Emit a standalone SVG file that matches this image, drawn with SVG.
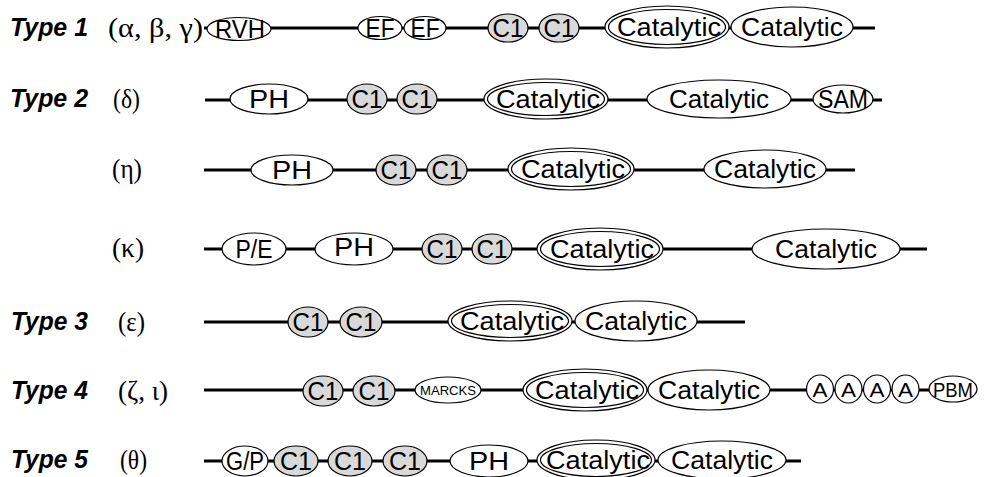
<svg xmlns="http://www.w3.org/2000/svg" width="984" height="477" viewBox="0 0 984 477">
  <style>
    .bg { fill: #ffffff; }
    .bb { stroke: #000; stroke-width: 3; fill: none; }
    .dom { fill: #ffffff; stroke: #000; stroke-width: 1.2; }
    .c1 { fill: #d9d9d9; stroke: #000; stroke-width: 1.2; }
    .ring { fill: none; stroke: #000; stroke-width: 1.2; }
    .t { font-family: "Liberation Sans", Arial, sans-serif; font-size: 25px; fill: #000; text-anchor: middle; }
    .tm { font-family: "Liberation Sans", Arial, sans-serif; font-size: 21px; fill: #000; text-anchor: middle; }
    .ts { font-family: "Liberation Sans", Arial, sans-serif; font-size: 13px; fill: #000; text-anchor: middle; }
    .type { font-family: "Liberation Sans", Arial, sans-serif; font-size: 25px; font-weight: bold; font-style: italic; fill: #000; }
    .iso { font-family: "Liberation Serif", "Times New Roman", serif; font-size: 27px; fill: #000; }
  </style>
  <rect class="bg" x="0" y="0" width="984" height="477"/>

  <!-- row labels -->
  <g id="labels">
    <text class="type" x="10" y="36" textLength="78" lengthAdjust="spacingAndGlyphs">Type 1</text>
    <text class="iso" x="108" y="37" textLength="95" lengthAdjust="spacingAndGlyphs">(α, β, γ)</text>
    <text class="type" x="10" y="107" textLength="78" lengthAdjust="spacingAndGlyphs">Type 2</text>
    <text class="iso" x="113" y="108" textLength="27" lengthAdjust="spacingAndGlyphs">(δ)</text>
    <text class="iso" x="112" y="178" textLength="30" lengthAdjust="spacingAndGlyphs">(η)</text>
    <text class="iso" x="112" y="257" textLength="32" lengthAdjust="spacingAndGlyphs">(κ)</text>
    <text class="type" x="11" y="330" textLength="77" lengthAdjust="spacingAndGlyphs">Type 3</text>
    <text class="iso" x="118" y="331" textLength="27" lengthAdjust="spacingAndGlyphs">(ε)</text>
    <text class="type" x="11" y="399" textLength="77" lengthAdjust="spacingAndGlyphs">Type 4</text>
    <text class="iso" x="118" y="400" textLength="50" lengthAdjust="spacingAndGlyphs">(ζ, ι)</text>
    <text class="type" x="11" y="468" textLength="77" lengthAdjust="spacingAndGlyphs">Type 5</text>
    <text class="iso" x="120" y="469" textLength="27" lengthAdjust="spacingAndGlyphs">(θ)</text>
  </g>

  <!-- backbone lines -->
  <g id="connectors">
    <line class="bb" x1="204" y1="28" x2="875" y2="28"/>
    <line class="bb" x1="205" y1="100" x2="882" y2="100"/>
    <line class="bb" x1="204" y1="170" x2="855" y2="170"/>
    <line class="bb" x1="204" y1="249" x2="927" y2="249"/>
    <line class="bb" x1="204" y1="322" x2="745" y2="322"/>
    <line class="bb" x1="204" y1="390" x2="930" y2="390"/>
    <line class="bb" x1="204" y1="461" x2="801" y2="461"/>
  </g>

  <!-- Type 1 -->
  <g id="t1-rvh"><ellipse class="dom" cx="239" cy="29" rx="32" ry="11.5"/><text class="t" x="240" y="38" textLength="50" lengthAdjust="spacingAndGlyphs">RVH</text></g>
  <g id="t1-ef1"><ellipse class="dom" cx="380" cy="28" rx="22" ry="11.5"/><text class="t" x="380" y="37" textLength="29" lengthAdjust="spacingAndGlyphs">EF</text></g>
  <g id="t1-ef2"><ellipse class="dom" cx="425" cy="28" rx="21" ry="11.5"/><text class="t" x="425" y="37" textLength="29" lengthAdjust="spacingAndGlyphs">EF</text></g>
  <g id="t1-c1a"><ellipse class="c1" cx="508" cy="28" rx="20" ry="14"/><text class="t" x="508" y="37" textLength="31" lengthAdjust="spacingAndGlyphs">C1</text></g>
  <g id="t1-c1b"><ellipse class="c1" cx="559" cy="28" rx="20" ry="14"/><text class="t" x="559" y="37" textLength="31" lengthAdjust="spacingAndGlyphs">C1</text></g>
  <g id="t1-cat1"><ellipse class="dom" cx="667" cy="27" rx="62" ry="21"/><ellipse class="ring" cx="667" cy="27" rx="58.5" ry="17.5"/><text class="t" x="669" y="36" textLength="104" lengthAdjust="spacingAndGlyphs">Catalytic</text></g>
  <g id="t1-cat2"><ellipse class="dom" cx="792" cy="27" rx="61" ry="20"/><text class="t" x="792" y="36" textLength="102" lengthAdjust="spacingAndGlyphs">Catalytic</text></g>

  <!-- Type 2, delta -->
  <g id="d-ph"><ellipse class="dom" cx="269" cy="99" rx="39" ry="15"/><text class="t" x="269" y="108" textLength="40" lengthAdjust="spacingAndGlyphs">PH</text></g>
  <g id="d-c1a"><ellipse class="c1" cx="367" cy="99" rx="20" ry="15"/><text class="t" x="367" y="108" textLength="31" lengthAdjust="spacingAndGlyphs">C1</text></g>
  <g id="d-c1b"><ellipse class="c1" cx="417" cy="99" rx="20" ry="15"/><text class="t" x="417" y="108" textLength="31" lengthAdjust="spacingAndGlyphs">C1</text></g>
  <g id="d-cat1"><ellipse class="dom" cx="546" cy="99" rx="62" ry="20"/><ellipse class="ring" cx="546" cy="99" rx="58.5" ry="16.5"/><text class="t" x="548" y="108" textLength="104" lengthAdjust="spacingAndGlyphs">Catalytic</text></g>
  <g id="d-cat2"><ellipse class="dom" cx="719" cy="99" rx="72" ry="19"/><text class="t" x="719" y="108" textLength="100" lengthAdjust="spacingAndGlyphs">Catalytic</text></g>
  <g id="d-sam"><ellipse class="dom" cx="843" cy="99" rx="30" ry="14"/><text class="t" x="843" y="108" textLength="50" lengthAdjust="spacingAndGlyphs">SAM</text></g>

  <!-- eta -->
  <g id="e-ph"><ellipse class="dom" cx="292" cy="170" rx="41" ry="15"/><text class="t" x="292" y="179" textLength="40" lengthAdjust="spacingAndGlyphs">PH</text></g>
  <g id="e-c1a"><ellipse class="c1" cx="396" cy="170" rx="20" ry="15"/><text class="t" x="396" y="179" textLength="31" lengthAdjust="spacingAndGlyphs">C1</text></g>
  <g id="e-c1b"><ellipse class="c1" cx="447" cy="170" rx="20" ry="15"/><text class="t" x="447" y="179" textLength="31" lengthAdjust="spacingAndGlyphs">C1</text></g>
  <g id="e-cat1"><ellipse class="dom" cx="571" cy="169" rx="63" ry="21"/><ellipse class="ring" cx="571" cy="169" rx="59.5" ry="17.5"/><text class="t" x="573" y="178" textLength="104" lengthAdjust="spacingAndGlyphs">Catalytic</text></g>
  <g id="e-cat2"><ellipse class="dom" cx="765" cy="169" rx="61" ry="19"/><text class="t" x="765" y="178" textLength="102" lengthAdjust="spacingAndGlyphs">Catalytic</text></g>

  <!-- kappa -->
  <g id="k-pe"><ellipse class="dom" cx="254" cy="249" rx="32" ry="16"/><text class="t" x="254" y="258" textLength="37" lengthAdjust="spacingAndGlyphs">P/E</text></g>
  <g id="k-ph"><ellipse class="dom" cx="354" cy="249" rx="39" ry="16"/><text class="t" x="354" y="256" textLength="40" lengthAdjust="spacingAndGlyphs">PH</text></g>
  <g id="k-c1a"><ellipse class="c1" cx="442" cy="249" rx="20" ry="15"/><text class="t" x="442" y="258" textLength="31" lengthAdjust="spacingAndGlyphs">C1</text></g>
  <g id="k-c1b"><ellipse class="c1" cx="492" cy="249" rx="20" ry="15"/><text class="t" x="492" y="258" textLength="31" lengthAdjust="spacingAndGlyphs">C1</text></g>
  <g id="k-cat1"><ellipse class="dom" cx="600" cy="249" rx="63" ry="21"/><ellipse class="ring" cx="600" cy="249" rx="59.5" ry="17.5"/><text class="t" x="602" y="258" textLength="104" lengthAdjust="spacingAndGlyphs">Catalytic</text></g>
  <g id="k-cat2"><ellipse class="dom" cx="826" cy="249" rx="74" ry="20"/><text class="t" x="826" y="258" textLength="102" lengthAdjust="spacingAndGlyphs">Catalytic</text></g>

  <!-- Type 3, epsilon -->
  <g id="t3-c1a"><ellipse class="c1" cx="308" cy="322" rx="20" ry="15"/><text class="t" x="308" y="331" textLength="31" lengthAdjust="spacingAndGlyphs">C1</text></g>
  <g id="t3-c1b"><ellipse class="c1" cx="361" cy="322" rx="21" ry="15"/><text class="t" x="361" y="331" textLength="31" lengthAdjust="spacingAndGlyphs">C1</text></g>
  <g id="t3-cat1"><ellipse class="dom" cx="510" cy="321" rx="62" ry="20"/><ellipse class="ring" cx="510" cy="321" rx="58.5" ry="16.5"/><text class="t" x="512" y="330" textLength="104" lengthAdjust="spacingAndGlyphs">Catalytic</text></g>
  <g id="t3-cat2"><ellipse class="dom" cx="636" cy="321" rx="61" ry="20"/><text class="t" x="636" y="330" textLength="102" lengthAdjust="spacingAndGlyphs">Catalytic</text></g>

  <!-- Type 4, zeta / iota -->
  <g id="t4-c1a"><ellipse class="c1" cx="323" cy="391" rx="20" ry="15"/><text class="t" x="323" y="400" textLength="31" lengthAdjust="spacingAndGlyphs">C1</text></g>
  <g id="t4-c1b"><ellipse class="c1" cx="374" cy="391" rx="21" ry="15"/><text class="t" x="374" y="400" textLength="31" lengthAdjust="spacingAndGlyphs">C1</text></g>
  <g id="t4-marcks"><ellipse class="dom" cx="448" cy="390" rx="33" ry="13"/><text class="ts" x="448" y="395" textLength="56" lengthAdjust="spacingAndGlyphs">MARCKS</text></g>
  <g id="t4-cat1"><ellipse class="dom" cx="585" cy="390" rx="62" ry="21"/><ellipse class="ring" cx="585" cy="390" rx="58.5" ry="17.5"/><text class="t" x="587" y="399" textLength="104" lengthAdjust="spacingAndGlyphs">Catalytic</text></g>
  <g id="t4-cat2"><ellipse class="dom" cx="709" cy="390" rx="61" ry="20"/><text class="t" x="709" y="399" textLength="102" lengthAdjust="spacingAndGlyphs">Catalytic</text></g>
  <g id="t4-a1"><ellipse class="dom" cx="820" cy="389" rx="13.5" ry="14"/><text class="tm" x="820" y="397" textLength="15" lengthAdjust="spacingAndGlyphs">A</text></g>
  <g id="t4-a2"><ellipse class="dom" cx="848.5" cy="389" rx="13.5" ry="14"/><text class="tm" x="848.5" y="397" textLength="15" lengthAdjust="spacingAndGlyphs">A</text></g>
  <g id="t4-a3"><ellipse class="dom" cx="877" cy="389" rx="13.5" ry="14"/><text class="tm" x="877" y="397" textLength="15" lengthAdjust="spacingAndGlyphs">A</text></g>
  <g id="t4-a4"><ellipse class="dom" cx="905.5" cy="389" rx="13.5" ry="14"/><text class="tm" x="905.5" y="397" textLength="15" lengthAdjust="spacingAndGlyphs">A</text></g>
  <g id="t4-pbm"><ellipse class="dom" cx="953" cy="389" rx="24" ry="13"/><text class="tm" x="953" y="397" textLength="40" lengthAdjust="spacingAndGlyphs">PBM</text></g>

  <!-- Type 5, theta -->
  <g id="t5-gp"><ellipse class="dom" cx="245" cy="461" rx="23" ry="15"/><text class="t" x="245" y="470" textLength="38" lengthAdjust="spacingAndGlyphs">G/P</text></g>
  <g id="t5-c1a"><ellipse class="c1" cx="296" cy="461" rx="22" ry="15"/><text class="t" x="296" y="470" textLength="32" lengthAdjust="spacingAndGlyphs">C1</text></g>
  <g id="t5-c1b"><ellipse class="c1" cx="350" cy="461" rx="22" ry="15"/><text class="t" x="350" y="470" textLength="32" lengthAdjust="spacingAndGlyphs">C1</text></g>
  <g id="t5-c1c"><ellipse class="c1" cx="405" cy="461" rx="22" ry="15"/><text class="t" x="405" y="470" textLength="32" lengthAdjust="spacingAndGlyphs">C1</text></g>
  <g id="t5-ph"><ellipse class="dom" cx="489" cy="461" rx="39" ry="16"/><text class="t" x="489" y="470" textLength="40" lengthAdjust="spacingAndGlyphs">PH</text></g>
  <g id="t5-cat1"><ellipse class="dom" cx="596" cy="460" rx="59" ry="20"/><ellipse class="ring" cx="596" cy="460" rx="55.5" ry="16.5"/><text class="t" x="598" y="469" textLength="104" lengthAdjust="spacingAndGlyphs">Catalytic</text></g>
  <g id="t5-cat2"><ellipse class="dom" cx="722" cy="460" rx="64" ry="19"/><text class="t" x="722" y="469" textLength="102" lengthAdjust="spacingAndGlyphs">Catalytic</text></g>
</svg>
